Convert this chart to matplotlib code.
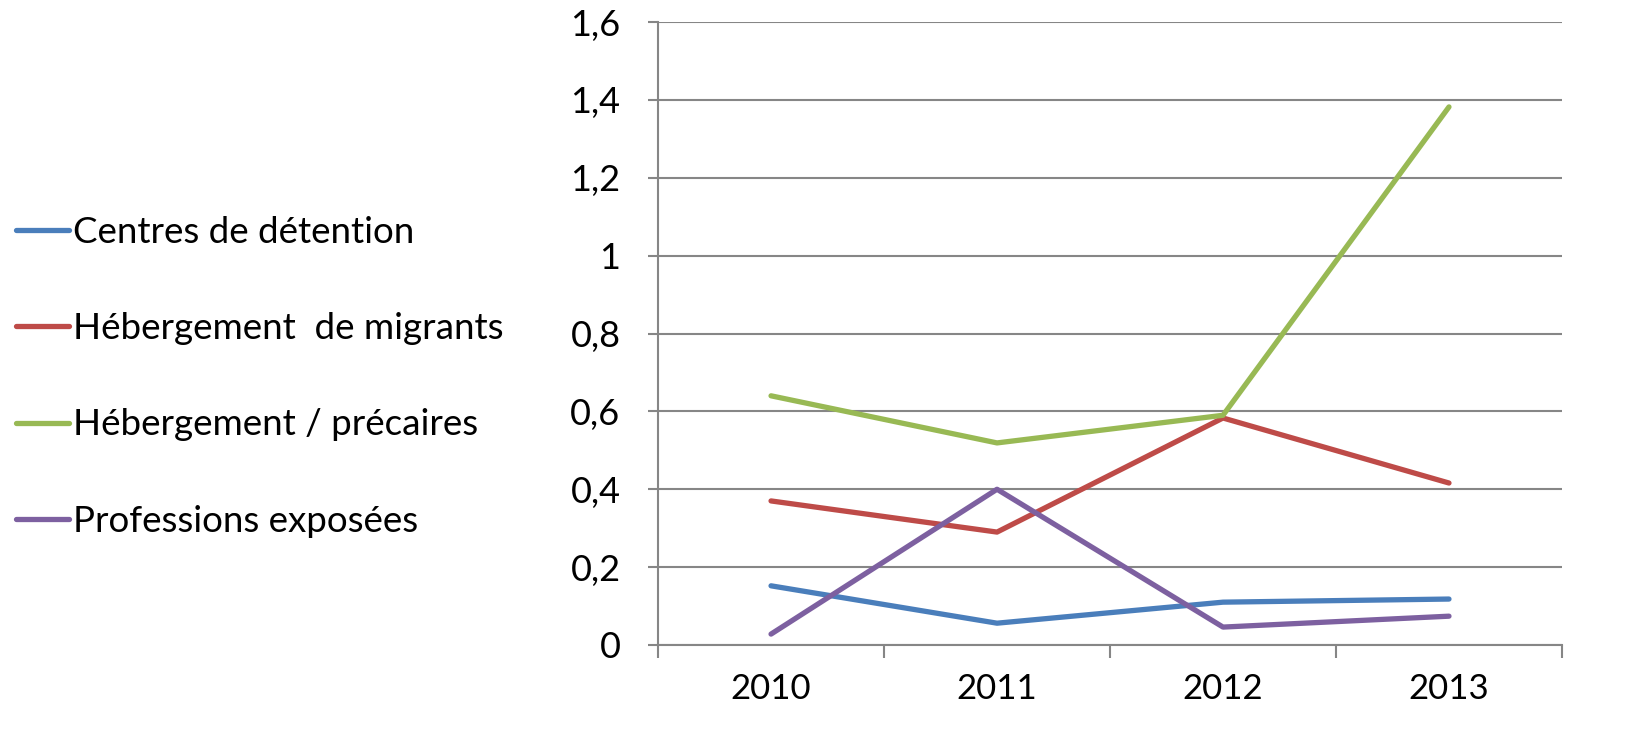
import matplotlib
matplotlib.use("Agg")
import matplotlib.pyplot as plt
from matplotlib.ticker import FixedLocator, FuncFormatter

years = ["2010", "2011", "2012", "2013"]
centres_detention = [0.152, 0.056, 0.110, 0.118]
hebergement_migrants = [0.370, 0.290, 0.583, 0.416]
hebergement_precaires = [0.640, 0.519, 0.590, 1.382]
professions_exposees = [0.028, 0.400, 0.046, 0.074]

series = [
    ("Centres de détention", centres_detention, "#4a7ebb"),
    ("Hébergement  de migrants", hebergement_migrants, "#be4b48"),
    ("Hébergement / précaires", hebergement_precaires, "#98b954"),
    ("Professions exposées", professions_exposees, "#7d60a0"),
]

plt.rcParams["font.family"] = ["Lato", "DejaVu Sans"]
fig = plt.figure(figsize=(16.48, 7.52), dpi=100)
ax = fig.add_axes([0.3993, 0.1423, 0.9478 - 0.3993, 0.9707 - 0.1423])

xs = list(range(len(years)))
for label, vals, color in series:
    ax.plot(xs, vals, color=color, lw=3.8, solid_capstyle="round", label=label)

grid = "#868686"
ax.set_xlim(-0.5, len(years) - 0.5)
ax.set_ylim(0, 1.6)
ax.set_yticks([i * 0.2 for i in range(9)])
ax.yaxis.set_major_formatter(FuncFormatter(lambda v, p: f"{v:.1f}".replace(".", ",").replace("0,0", "0").replace("1,0", "1")))
ax.yaxis.grid(True, color=grid, lw=1.5)
ax.set_axisbelow(True)

ax.set_xticks(xs, years)
ax.xaxis.set_minor_locator(FixedLocator([x - 0.5 for x in range(len(years) + 1)]))
ax.tick_params(axis="x", which="major", length=0, pad=20, labelsize=25)
ax.tick_params(axis="x", which="minor", length=9, width=1.5, color=grid)
ax.tick_params(axis="y", length=7, width=1.5, color=grid, pad=20, labelsize=26)

for s in ("top", "right"):
    ax.spines[s].set_visible(False)
for s in ("left", "bottom"):
    ax.spines[s].set_color(grid)
    ax.spines[s].set_linewidth(1.5)

fig.legend(loc="upper left", bbox_to_anchor=(0.0095, 0.713), frameon=False,
           fontsize=26.5, handlelength=1.45, handletextpad=0.1, labelspacing=1.72,
           borderaxespad=0, borderpad=0)

fig.savefig("out.png", dpi=100)
